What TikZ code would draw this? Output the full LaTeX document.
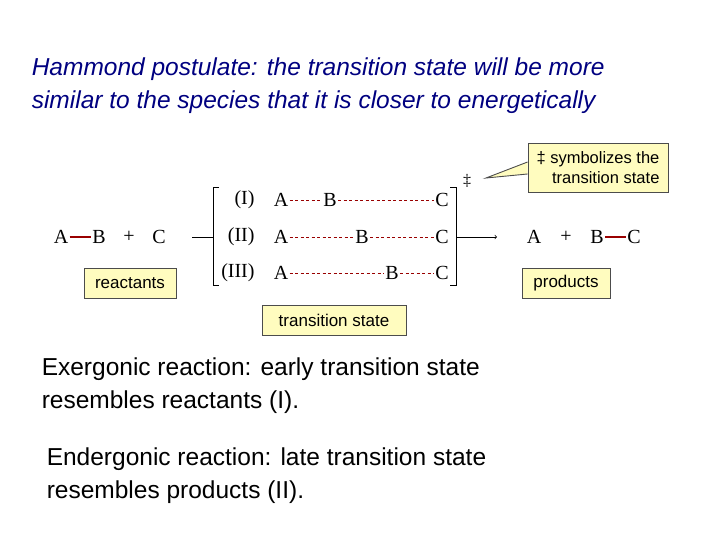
\documentclass[tikz,border=0pt]{standalone}
\usepackage{fontspec}
\setmainfont{Liberation Sans}
\newfontfamily\serifx{Liberation Serif}
\begin{document}
\begin{tikzpicture}[x=1pt,y=-1pt,line width=0.9pt,
  lab/.style={draw=black!70,fill=yellow!25,font=\fontsize{17}{20}\selectfont,inner sep=3pt,minimum height=30pt},
  ch/.style={font=\serifx\fontsize{20}{22}\selectfont,inner sep=1pt},
  bond/.style={draw=red!60!black,dash pattern=on 3pt off 2.5pt,line width=0.8pt},
  big/.style={anchor=west,align=left}]
\useasboundingbox (0,0) rectangle (720,540);
\node[big,font=\itshape\fontsize{24.5}{33}\selectfont,text=blue!50!black] (title) at (28,86) {Hammond postulate: the transition state will be more\\similar to the species that it is closer to energetically};
% reactants
\node[ch] (rA) at (61,237) {A};
\node[ch] (rB) at (99,237) {B};
\node[ch] (rp) at (129,237) {+};
\node[ch] (rC) at (159,237) {C};
\draw[red!60!black,line width=1.2pt] (rA.east) -- (rB.west);
% bracket
\coordinate (lb1) at (219,187); \coordinate (lb2) at (213,187);
\coordinate (lb3) at (213,285); \coordinate (lb4) at (219,285);
\draw (lb1) -- (lb2) -- (lb3) -- (lb4);
\coordinate (rb1) at (450,187); \coordinate (rb2) at (456,187);
\coordinate (rb3) at (456,285); \coordinate (rb4) at (450,285);
\draw (rb1) -- (rb2) -- (rb3) -- (rb4);
\coordinate (ls) at (192,237);
\draw (ls) -- (lb2 |- ls);
\node[ch,font=\serifx\fontsize{16}{18}\selectfont] (dag) at (467,181) {‡};
% rows
\node[ch,anchor=east] (l1) at (256,200) {(I)};
\node[ch,anchor=east] (l2) at (256,237) {(II)};
\node[ch,anchor=east] (l3) at (256,273) {(III)};
\node[ch] (a1) at (281,200) {A}; \node[ch] (b1) at (330,200) {B}; \node[ch] (c1) at (442,200) {C};
\node[ch] (a2) at (281,237) {A}; \node[ch] (b2) at (362,237) {B}; \node[ch] (c2) at (442,237) {C};
\node[ch] (a3) at (281,273) {A}; \node[ch] (b3) at (392,273) {B}; \node[ch] (c3) at (442,273) {C};
\draw[bond] (a1.east) -- (b1.west); \draw[bond] (b1.east) -- (c1.west);
\draw[bond] (a2.east) -- (b2.west); \draw[bond] (b2.east) -- (c2.west);
\draw[bond] (a3.east) -- (b3.west); \draw[bond] (b3.east) -- (c3.west);
\coordinate (ae) at (497,237);
\draw[->,line width=0.7pt] (rb2 |- ae) -- (ae);
% products
\node[ch] (pA) at (534,237) {A};
\node[ch] (pp) at (566,237) {+};
\node[ch] (pB) at (597,237) {B};
\node[ch] (pC) at (634,237) {C};
\draw[red!60!black,line width=1.2pt] (pB.east) -- (pC.west);
% labels
\node[lab,minimum width=92pt] (reac) at (130,283) {reactants};
\node[lab,minimum width=88pt] (prod) at (566,283) {products};
\node[lab,minimum width=144pt] (ts) at (334,320) {transition state};
\node[lab,minimum width=140pt,minimum height=49pt,align=right,font=\fontsize{16.5}{20}\selectfont] (call) at (598,168) {‡ symbolizes the\\transition state};
\coordinate (tip) at (486,178);
\fill[yellow!25] (call.west |- 0,162) -- (tip) -- (call.west |- 0,174) -- cycle;
\draw[black!70] (call.west |- 0,162) -- (tip) -- (call.west |- 0,174);
% bottom text
\node[big,font=\fontsize{24.5}{33}\selectfont] (ex) at (38,386) {Exergonic reaction: early transition state\\resembles reactants (I).};
\node[big,font=\fontsize{24.5}{33}\selectfont] (en) at (43,476) {Endergonic reaction: late transition state\\resembles products (II).};
\end{tikzpicture}
\end{document}
